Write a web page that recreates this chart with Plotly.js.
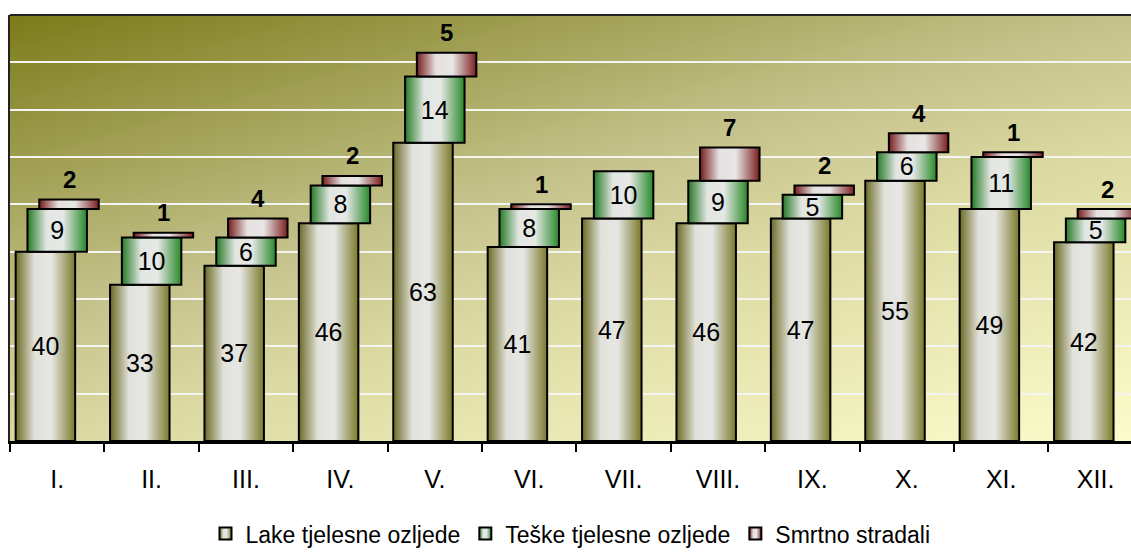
<!DOCTYPE html>
<html><head><meta charset="utf-8">
<script src="https://cdn.plot.ly/plotly-3.0.1.min.js"></script>
<style>html,body{margin:0;padding:0;background:#fff}#chart{width:1131px;height:552px}</style>
</head><body><div id="chart"></div>
<script>
// ---- data ----
const months = ['I.','II.','III.','IV.','V.','VI.','VII.','VIII.','IX.','X.','XI.','XII.'];
const lake   = [40,33,37,46,63,41,47,46,47,55,49,42];
const teske  = [9,10,6,8,14,8,10,9,5,6,11,5];
const smrtno = [2,1,4,2,5,1,0,7,2,4,1,2];
const seriesNames = ['Lake tjelesne ozljede','Teške tjelesne ozljede','Smrtno stradali'];

// ---- derived ----
const baseTeske = lake.slice();
const baseSmrtno = lake.map((v,i)=>v+teske[i]);
const FONT = 'Liberation Sans, Arial, sans-serif';
const BW = 0.63;
const OFFS = [-0.44, -0.315, -0.19];

const traces = [
  {type:'bar', name:seriesNames[0], x:months, y:lake, width:BW, offset:OFFS[0],
   marker:{color:'#c8c8a0', line:{color:'#000', width:2}},
   text:lake.map(String), textposition:'inside', insidetextanchor:'middle', constraintext:'none', textangle:0,
   textfont:{family:FONT, size:25, color:'#000'}, hoverinfo:'name+y'},
  {type:'bar', name:seriesNames[1], x:months, y:teske, base:baseTeske, width:BW, offset:OFFS[1],
   marker:{color:'#8fbf8f', line:{color:'#000', width:2}},
   text:teske.map(String), textposition:'inside', insidetextanchor:'middle', constraintext:'none', textangle:0,
   textfont:{family:FONT, size:25, color:'#000'}, hoverinfo:'name+y'},
  {type:'bar', name:seriesNames[2], x:months, y:smrtno.map(v=>v>0?v:null), base:baseSmrtno, width:BW, offset:OFFS[2],
   marker:{color:'#b88080', line:{color:'#000', width:2}}, hoverinfo:'name+y'}
];

const annotations = [];
smrtno.forEach((v,i)=>{
  if(v>0) annotations.push({x:i+OFFS[2]+BW/2, y:baseSmrtno[i]+v, xref:'x', yref:'y',
    text:'<b>'+v+'</b>', showarrow:false, yanchor:'middle', yshift:20,
    font:{family:FONT, size:24, color:'#000'}});
});

const bgSvg = "<svg xmlns='http://www.w3.org/2000/svg' width='1121' height='426' viewBox='0 0 1121 426' preserveAspectRatio='none'>"+
 "<defs><linearGradient id='bg' gradientUnits='userSpaceOnUse' x1='0' y1='0' x2='188' y2='683'>"+
 "<stop offset='0' stop-color='#7b7b1a'/><stop offset='0.42' stop-color='#c4c28a'/>"+
 "<stop offset='0.6' stop-color='#dcdaa2'/><stop offset='1' stop-color='#fcfccc'/></linearGradient></defs>"+
 "<rect width='1121' height='426' fill='url(#bg)'/></svg>";
const bgUri = 'data:image/svg+xml;charset=utf-8,' + encodeURIComponent(bgSvg);

const layout = {
  width:1131, height:552,
  margin:{l:10, r:0, t:15, b:111, autoexpand:false},
  paper_bgcolor:'#ffffff', plot_bgcolor:'rgba(0,0,0,0)',
  barmode:'overlay', showlegend:true,
  font:{family:FONT, color:'#000'},
  xaxis:{type:'category', range:[-0.5, 11.375], showline:true, linecolor:'#000', linewidth:3,
    ticks:'outside', tickson:'boundaries', ticklen:8, tickwidth:2, tickcolor:'#000',
    showgrid:false, zeroline:false, tickfont:{family:FONT, size:25, color:'#000'},
    ticklabelstandoff:14, fixedrange:true, automargin:false},
  yaxis:{range:[0,90], dtick:10, showgrid:true, gridcolor:'#f4f4f0', gridwidth:2,
    showticklabels:false, ticks:'', showline:true, linecolor:'#222', linewidth:2,
    zeroline:false, fixedrange:true, automargin:false},
  legend:{orientation:'h', x:0.5, xanchor:'center', y:-0.167, yanchor:'top', itemwidth:30,
    font:{family:FONT, size:23, color:'#000'}, bgcolor:'rgba(0,0,0,0)', traceorder:'normal'},
  shapes:[{type:'line', xref:'paper', yref:'paper', x0:0, x1:1, y0:1, y1:1, line:{color:'#222', width:2}}],
  images:[{source:bgUri, xref:'paper', yref:'paper', x:0, y:1, sizex:1, sizey:1,
    sizing:'stretch', xanchor:'left', yanchor:'top', layer:'below'}],
  annotations:annotations
};

const GRADS = [
  ['gLake',  [[0,'#6a6a26'],[0.32,'#e2e2dc'],[0.6,'#e6e6e4'],[1,'#7a7a2a']]],
  ['gTeske', [[0,'#267a26'],[0.32,'#e2e6e2'],[0.6,'#e6e8e6'],[1,'#288828']]],
  ['gSmrt',  [[0,'#761c1c'],[0.32,'#e6e0e0'],[0.6,'#e8e6e6'],[1,'#7c1e1e']]]
];
function applyGradients(gd){
  const NS='http://www.w3.org/2000/svg';
  const svg = gd.querySelector('.main-svg');
  if(!svg) return;
  let defs = svg.querySelector('defs');
  if(!defs){ defs=document.createElementNS(NS,'defs'); svg.insertBefore(defs, svg.firstChild); }
  GRADS.forEach(([id,stops])=>{
    if(svg.querySelector('#'+id)) return;
    const g=document.createElementNS(NS,'linearGradient');
    g.setAttribute('id',id); g.setAttribute('x1','0'); g.setAttribute('y1','0');
    g.setAttribute('x2','1'); g.setAttribute('y2','0');
    stops.forEach(([o,c])=>{const s=document.createElementNS(NS,'stop');
      s.setAttribute('offset',o); s.setAttribute('stop-color',c); g.appendChild(s);});
    defs.appendChild(g);
  });
  gd.querySelectorAll('.barlayer .trace').forEach((t,i)=>{
    if(!GRADS[i]) return;
    t.querySelectorAll('.point path').forEach(p=>{p.style.fill='url(#'+GRADS[i][0]+')';});
  });
  gd.querySelectorAll('.legend .traces').forEach((t,i)=>{
    if(!GRADS[i]) return;
    t.querySelectorAll('.legendpoints path').forEach(p=>{p.style.fill='url(#'+GRADS[i][0]+')';});
  });
}
const gd = document.getElementById('chart');
Plotly.newPlot(gd, traces, layout, {displayModeBar:false}).then(()=>{
  applyGradients(gd);
  gd.on('plotly_afterplot', ()=>applyGradients(gd));
});
</script>
</body></html>
